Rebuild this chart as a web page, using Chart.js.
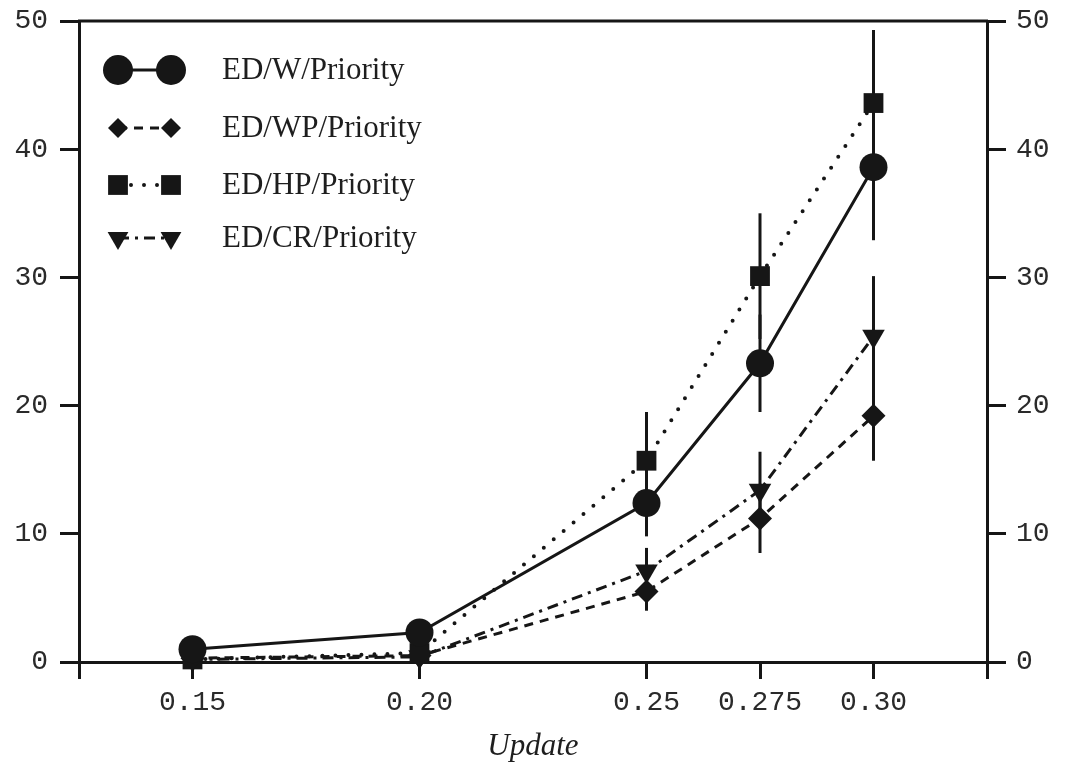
<!DOCTYPE html>
<html>
<head>
<meta charset="utf-8">
<script src="https://cdn.jsdelivr.net/npm/chart.js@4/dist/chart.umd.min.js"></script>
<style>
    body { margin: 0; background: #fff; }
    #chart { display: block; }
</style>
</head>
<body>
<canvas id="chart" width="1065" height="777"></canvas>
<script>
// Data
const xValues = [0.15, 0.20, 0.25, 0.275, 0.30];
const xTickValues = [0.125, 0.15, 0.20, 0.25, 0.275, 0.30, 0.325];
const xTickLabels = ['', '0.15', '0.20', '0.25', '0.275', '0.30', ''];
const seriesNames = ['ED/W/Priority', 'ED/WP/Priority', 'ED/HP/Priority', 'ED/CR/Priority'];

const wValues  = [1.0, 2.3, 12.4, 23.3, 38.6];
const wpValues = [0.3, 0.5, 5.5, 11.2, 19.2];
const hpValues = [0.2, 0.7, 15.7, 30.1, 43.6];
const crValues = [0.2, 0.4, 7.1, 13.4, 25.4];

const wErr  = [0, 0, 2.6, 3.8, 5.7];
const wpErr = [0, 0, 1.5, 2.7, 3.5];
const hpErr = [0, 0, 3.8, 4.9, 5.7];
const crErr = [0, 0, 1.8, 3.0, 4.7];

const INK = '#161616';
const toPoints = vals => vals.map((v, i) => ({ x: xValues[i], y: v }));

const makeSet = (label, vals, errs, style) => Object.assign({
    label: label,
    data: toPoints(vals),
    errors: errs,
    borderColor: INK,
    backgroundColor: INK,
    pointBackgroundColor: INK,
    pointBorderColor: INK,
    pointBorderWidth: 0,
    pointHoverRadius: 0,
    borderWidth: 3,
    tension: 0,
    fill: false,
    clip: false
}, style);

const datasets = [
    makeSet(seriesNames[0], wValues, wErr, { pointStyle: 'circle', pointRadius: 14, legendRadius: 15 }),
    makeSet(seriesNames[1], wpValues, wpErr, { pointStyle: 'rectRot', pointRadius: 12, borderDash: [9, 7], legendRadius: 10 }),
    makeSet(seriesNames[2], hpValues, hpErr, { pointStyle: 'rect', pointRadius: 14, borderDash: [0, 13], borderCapStyle: 'round', borderWidth: 4, legendRadius: 14 }),
    makeSet(seriesNames[3], crValues, crErr, { pointStyle: 'triangle', pointRadius: 13, pointRotation: 180, borderDash: [11, 6, 3, 6], legendRadius: 12 })
];

// vertical error bars, drawn under the markers
const errorBars = {
    id: 'errorBars',
    beforeDatasetsDraw(chart) {
        const { ctx, scales: { x, y } } = chart;
        ctx.save();
        ctx.strokeStyle = INK;
        ctx.lineWidth = 3;
        chart.data.datasets.forEach(ds => {
            ds.data.forEach((p, i) => {
                const e = ds.errors[i];
                if (!e) return;
                const px = x.getPixelForValue(p.x);
                ctx.beginPath();
                ctx.moveTo(px, y.getPixelForValue(p.y + e));
                ctx.lineTo(px, y.getPixelForValue(p.y - e));
                ctx.stroke();
            });
        });
        ctx.restore();
    }
};

// top frame line + legend in the upper left corner
const frameAndLegend = {
    id: 'frameAndLegend',
    afterDraw(chart) {
        const { ctx, chartArea } = chart;
        ctx.save();
        ctx.strokeStyle = INK;
        ctx.lineWidth = 3;
        ctx.beginPath();
        ctx.moveTo(chartArea.left - 1, chartArea.top);
        ctx.lineTo(chartArea.right + 1, chartArea.top);
        ctx.stroke();

        const rowY = [70, 128, 185, 238];
        const x1 = 118, x2 = 171, textX = 222;
        chart.data.datasets.forEach((ds, i) => {
            const yy = rowY[i];
            const r = ds.legendRadius;
            ctx.save();
            ctx.strokeStyle = INK;
            ctx.lineWidth = ds.borderWidth;
            ctx.lineCap = ds.borderCapStyle || 'butt';
            ctx.setLineDash(ds.borderDash || []);
            ctx.beginPath();
            ctx.moveTo(x1, yy);
            ctx.lineTo(x2, yy);
            ctx.stroke();
            ctx.restore();
            ctx.fillStyle = INK;
            ctx.strokeStyle = INK;
            [x1, x2].forEach(px => {
                Chart.helpers.drawPoint(ctx, {
                    pointStyle: ds.pointStyle,
                    radius: r,
                    rotation: ds.pointRotation || 0,
                    borderWidth: 0
                }, px, yy);
            });
            ctx.fillStyle = '#1e1e1e';
            ctx.font = '31px "Liberation Serif", "Times New Roman", serif';
            ctx.textBaseline = 'middle';
            ctx.textAlign = 'left';
            ctx.fillText(ds.label, textX, yy + 1);
        });
        ctx.restore();
    }
};

const tickFont = { family: '"Liberation Mono", "Courier New", monospace', size: 28 };

// fixed axis boxes so the plot area sits where it does in the figure
const fixY = width => scale => {
    scale.width = width;
    scale.paddingTop = 0;
    scale.paddingBottom = 0;
};

new Chart(document.getElementById('chart'), {
    type: 'line',
    data: { datasets: datasets },
    options: {
        responsive: false,
        animation: false,
        layout: { padding: { top: 21, left: 0, right: 0, bottom: 0 } },
        plugins: {
            legend: { display: false },
            tooltip: { enabled: false }
        },
        scales: {
            x: {
                type: 'linear',
                min: 0.125,
                max: 0.325,
                afterBuildTicks: scale => {
                    scale.ticks = xTickValues.map(v => ({ value: v }));
                },
                afterFit: scale => {
                    scale.height = 115;
                    scale.paddingLeft = 0;
                    scale.paddingRight = 0;
                },
                ticks: {
                    autoSkip: false,
                    maxRotation: 0,
                    padding: 7,
                    color: '#2a2a2a',
                    font: tickFont,
                    callback: (value, index) => xTickLabels[index]
                },
                grid: { drawOnChartArea: false, tickLength: 17, color: INK, lineWidth: 3 },
                border: { display: true, color: INK, width: 3 },
                title: {
                    display: true,
                    text: 'Update',
                    color: '#1e1e1e',
                    font: { family: '"Liberation Serif", "Times New Roman", serif', size: 31, style: 'italic' },
                    padding: { top: 0, bottom: 12 }
                }
            },
            y: {
                position: 'left',
                min: 0,
                max: 50,
                afterFit: fixY(79),
                ticks: { stepSize: 10, padding: 12, color: '#2a2a2a', font: tickFont },
                grid: { drawOnChartArea: false, tickLength: 19, color: INK, lineWidth: 3 },
                border: { display: true, color: INK, width: 3 }
            },
            y2: {
                position: 'right',
                min: 0,
                max: 50,
                afterFit: fixY(78),
                ticks: { stepSize: 10, padding: 10, color: '#2a2a2a', font: tickFont },
                grid: { drawOnChartArea: false, tickLength: 19, color: INK, lineWidth: 3 },
                border: { display: true, color: INK, width: 3 }
            }
        }
    },
    plugins: [errorBars, frameAndLegend]
});
</script>
</body>
</html>
